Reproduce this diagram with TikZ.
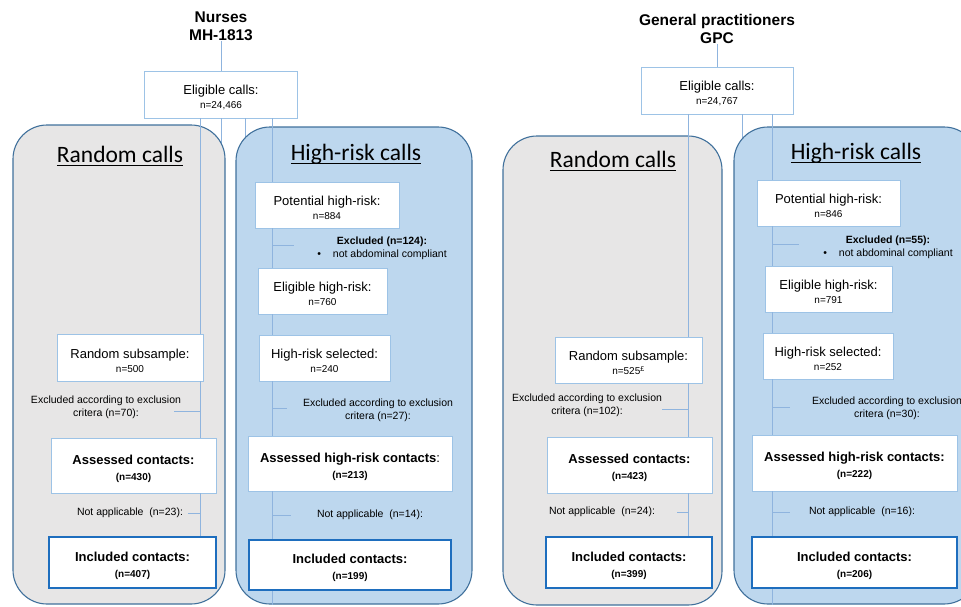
\documentclass[tikz,border=0pt]{standalone}
\usepackage{fontspec}
\setmainfont{Liberation Sans}
\newfontfamily\calfont{Carlito}
\usetikzlibrary{positioning}
\definecolor{panelline}{RGB}{65,113,156}
\definecolor{grayfill}{RGB}{231,230,230}
\definecolor{bluefill}{RGB}{189,215,238}
\definecolor{boxline}{RGB}{157,195,230}
\definecolor{linkline}{RGB}{143,180,222}
\definecolor{finalline}{RGB}{30,110,190}

\newcommand{\headtxt}{\fontsize{15.5}{18}\selectfont\bfseries}
\newcommand{\ptitletxt}{\calfont\fontsize{23.5}{26}\selectfont}
\newcommand{\boxtxt}{\fontsize{13}{14}\selectfont}
\newcommand{\keytxt}{\fontsize{13}{16}\selectfont\bfseries}
\newcommand{\numtxt}{\fontsize{10}{12}\selectfont}
\newcommand{\notetxt}{\fontsize{10.5}{13}\selectfont}
% underlined panel title, with the bar at a fixed depth
\newsavebox{\ttlbox}
\newcommand{\ulttl}[1]{\sbox{\ttlbox}{#1}\rlap{\usebox{\ttlbox}}\rule[-3.8pt]{\wd\ttlbox}{1.3pt}}

\begin{document}
\begin{tikzpicture}[
  x=1pt, y=-1pt,
  head/.style={font=\headtxt, align=center, inner sep=0pt},
  panel/.style={rectangle, rounded corners=34pt, draw=panelline, line width=1.1pt},
  randpanel/.style={panel, fill=grayfill},
  riskpanel/.style={panel, fill=bluefill},
  ptitle/.style={font=\ptitletxt, inner sep=0pt},
  stagebox/.style={rectangle, draw=boxline, fill=white, line width=0.9pt, align=center, font=\boxtxt, inner sep=0pt,
    execute at begin node={\rule{0pt}{29.5pt}}},
  keybox/.style={stagebox, font=\keytxt, execute at begin node={\rule{0pt}{31.5pt}}},
  finalbox/.style={keybox, draw=finalline, line width=2.8pt},
  note/.style={font=\notetxt, align=center, inner sep=0pt},
  link/.style={draw=linkline, line width=0.9pt}
]
\useasboundingbox (0,0) rectangle (961,606);
\clip (0,0) rectangle (961,606);

% headings and eligible calls
\node[head] (headA) at (221,26) {Nurses\\MH-1813};
\node[stagebox, minimum width=153pt, minimum height=47pt] (eligA) at (221,94.5) {Eligible calls:\\{\numtxt n=24,466}};
\node[head] (headB) at (717,29) {General practitioners\\GPC};
\node[stagebox, minimum width=152pt, minimum height=47pt] (eligB) at (717,90.5) {Eligible calls:\\{\numtxt n=24,767}};
\draw[link] (headA.south) -- (eligA.north);
\draw[link] (headB.south) -- (eligB.north);

% short stubs, hidden behind the panels
\coordinate (stubA1) at (221,170);
\coordinate (stubA2) at (245,170);
\coordinate (stubB1) at (742,170);
\draw[link] (eligA.south -| stubA1) -- (stubA1);
\draw[link] (eligA.south -| stubA2) -- (stubA2);
\draw[link] (eligB.south -| stubB1) -- (stubB1);

% panels
\node[randpanel, minimum width=212pt, minimum height=479pt] (randA) at (119,364.5) {};
\node[riskpanel, minimum width=236pt, minimum height=477pt] (riskA) at (354,365.5) {};
\node[randpanel, minimum width=219pt, minimum height=469pt] (randB) at (612.5,370.5) {};
\node[riskpanel, minimum width=244pt, minimum height=477pt] (riskB) at (856,365.5) {};
\node[ptitle] (ptRA) at (120,156) {\ulttl{Random calls}};
\node[ptitle] (ptHA) at (356,154) {\ulttl{High-risk calls}};
\node[ptitle] (ptRB) at (613,161) {\ulttl{Random calls}};
\node[ptitle] (ptHB) at (856,153) {\ulttl{High-risk calls}};

\coordinate (spRA) at (200,0);
\coordinate (spHA) at (272,0);
\coordinate (spRB) at (688,0);
\coordinate (spHB) at (772,0);

% nurses, random calls
\node[stagebox, minimum width=146pt, minimum height=47pt] (subA) at (130,357.5) {Random subsample:\\{\numtxt n=500}};
\node[note] (exRA) at (106,407.5) {Excluded according to exclusion\\critera (n=70):};
\node[keybox, minimum width=165pt, minimum height=55pt] (assRA) at (133.5,465.5) {Assessed contacts:\\{\numtxt (n=430)}};
\node[note] (naRA) at (130,513) {Not applicable\ \ (n=23):};
\node[finalbox, minimum width=167pt, minimum height=51pt] (incRA) at (132.5,562.5) {Included contacts:\\{\numtxt (n=407)}};
\draw[link] (eligA.south -| spRA) -- (subA.north -| spRA);
\draw[link] (subA.south -| spRA) -- (assRA.north -| spRA);
\draw[link] (assRA.south -| spRA) -- (incRA.north -| spRA);
\draw[link] (spRA |- exRA) ++(0,3.5) -- ++(-26,0);
\draw[link] (spRA |- naRA) -- ++(-12,0);

% nurses, high-risk calls
\node[stagebox, minimum width=144pt, minimum height=46pt] (potA) at (327,205) {Potential high-risk:\\{\numtxt n=884}};
\node[note] (exHA1) at (382,248) {\textbf{Excluded (n=124):}\\\textbullet\hspace{12pt}not abdominal compliant};
\node[stagebox, minimum width=129pt, minimum height=46pt] (eligHA) at (322.5,291) {Eligible high-risk:\\{\numtxt n=760}};
\node[stagebox, minimum width=131pt, minimum height=46pt] (selA) at (324.5,358) {High-risk selected:\\{\numtxt n=240}};
\node[note] (exHA2) at (378,410.5) {Excluded according to exclusion\\critera (n=27):};
\node[keybox, minimum width=204pt, minimum height=55pt] (assHA) at (350,463.5) {Assessed high-risk contacts{\mdseries:}\\{\numtxt (n=213)}};
\node[note] (naHA) at (370,515) {Not applicable\ \ (n=14):};
\node[finalbox, minimum width=202pt, minimum height=50pt] (incHA) at (350,565) {Included contacts:\\{\numtxt (n=199)}};
\draw[link] (eligA.south -| spHA) -- (potA.north -| spHA);
\draw[link] (potA.south -| spHA) -- (eligHA.north -| spHA);
\draw[link] (eligHA.south -| spHA) -- (selA.north -| spHA);
\draw[link] (selA.south -| spHA) -- (assHA.north -| spHA);
\draw[link] (assHA.south -| spHA) -- (incHA.north -| spHA);
\draw[link] (incHA.south -| spHA) -- (riskA.south -| spHA);
\draw[link] (spHA |- exHA1) ++(0,-3) -- ++(22,0);
\draw[link] (spHA |- exHA2) ++(0,-2.5) -- ++(15,0);
\draw[link] (spHA |- naHA) -- ++(19,0);

% general practitioners, random calls
\node[stagebox, minimum width=147pt, minimum height=46pt] (subB) at (628.5,360) {Random subsample:\\{\numtxt n=525\textsuperscript{£}}};
\node[note] (exRB) at (587,405) {Excluded according to exclusion\\critera (n=102):};
\node[keybox, minimum width=165pt, minimum height=56pt] (assRB) at (629.5,465) {Assessed contacts:\\{\numtxt (n=423)}};
\node[note] (naRB) at (602,512) {Not applicable\ \ (n=24):};
\node[finalbox, minimum width=166pt, minimum height=51pt] (incRB) at (629,562.5) {Included contacts:\\{\numtxt (n=399)}};
\draw[link] (eligB.south -| spRB) -- (subB.north -| spRB);
\draw[link] (subB.south -| spRB) -- (assRB.north -| spRB);
\draw[link] (assRB.south -| spRB) -- (incRB.north -| spRB);
\draw[link] (spRB |- exRB) ++(0,4) -- ++(-26,0);
\draw[link] (spRB |- naRB) -- ++(-11,0);

% general practitioners, high-risk calls
\node[stagebox, minimum width=143pt, minimum height=46pt] (potB) at (828.5,203) {Potential high-risk:\\{\numtxt n=846}};
\node[note] (exHB1) at (888,247) {\textbf{Excluded (n=55):}\\\textbullet\hspace{12pt}not abdominal compliant};
\node[stagebox, minimum width=127pt, minimum height=46pt] (eligHB) at (828.5,289) {Eligible high-risk:\\{\numtxt n=791}};
\node[stagebox, minimum width=130pt, minimum height=46pt] (selB) at (828,356) {High-risk selected:\\{\numtxt n=252}};
\node[note] (exHB2) at (887,408) {Excluded according to exclusion\\critera (n=30):};
\node[keybox, minimum width=205pt, minimum height=56pt] (assHB) at (854.5,463) {Assessed high-risk contacts:\\{\numtxt (n=222)}};
\node[note] (naHB) at (862,512) {Not applicable\ \ (n=16):};
\node[finalbox, minimum width=205pt, minimum height=51pt] (incHB) at (854.5,562.5) {Included contacts:\\{\numtxt (n=206)}};
\draw[link] (eligB.south -| spHB) -- (potB.north -| spHB);
\draw[link] (potB.south -| spHB) -- (eligHB.north -| spHB);
\draw[link] (eligHB.south -| spHB) -- (selB.north -| spHB);
\draw[link] (selB.south -| spHB) -- (assHB.north -| spHB);
\draw[link] (assHB.south -| spHB) -- (incHB.north -| spHB);
\draw[link] (incHB.south -| spHB) -- (riskB.south -| spHB);
\draw[link] (spHB |- exHB1) ++(0,-3) -- ++(27,0);
\draw[link] (spHB |- exHB2) ++(0,-1) -- ++(18,0);
\draw[link] (spHB |- naHB) -- ++(18,0);
\end{tikzpicture}
\end{document}
